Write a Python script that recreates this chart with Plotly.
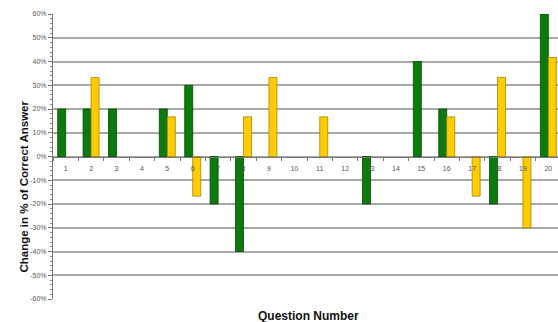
import plotly.graph_objects as go

# Per-question change in percentage of correct answers
questions = list(range(1, 21))
tick_labels = [str(q) for q in questions]
series_a = [20, 20, 20, 0, 20, 30, -20, -40, 0, 0, 0, 0, -20, 0, 40, 20, 0, -20, 0, 60]
series_b = [0, 33.3, 0, 0, 16.7, -16.7, 0, 16.7, 33.3, 0, 16.7, 0, 0, 0, 0, 16.7, -16.7, 33.3, -30, 41.7]
y_ticks = list(range(-60, 61, 10))
y_tick_labels = [f"{v}%" for v in y_ticks]


def no_zero(values):
    # zero-change questions get no bar at all (avoids a hairline outline)
    return [v if v != 0 else None for v in values]


fig = go.Figure()
fig.add_trace(go.Bar(
    x=questions, y=no_zero(series_a), name="A",
    marker=dict(color="#0c7a0c", line=dict(color="#034a03", width=0.8)),
))
fig.add_trace(go.Bar(
    x=questions, y=no_zero(series_b), name="B",
    marker=dict(color="#ffcc00", line=dict(color="#a88400", width=0.8)),
))

tick_font = dict(family="Arial, Liberation Sans, sans-serif", size=7, color="#555555")
title_font = dict(family="Arial, Liberation Sans, sans-serif", size=12, color="#111111")

fig.update_layout(
    width=558, height=322,
    margin=dict(l=53, r=0, t=14, b=23),
    paper_bgcolor="white", plot_bgcolor="white",
    barmode="group", bargap=0.37, bargroupgap=0,
    showlegend=False,
    xaxis=dict(
        range=[0.5, 20.38],
        tickvals=questions, ticktext=tick_labels,
        ticks="", tickfont=tick_font, ticklabelstandoff=5,
        anchor="free", position=0.5,
        showline=True, linecolor="#777777", linewidth=1,
        showgrid=False, zeroline=False,
        minor=dict(tick0=0.5, dtick=1, ticks="outside", ticklen=3,
                   tickcolor="#777777", showgrid=False),
    ),
    yaxis=dict(
        range=[-60, 60],
        tickvals=y_ticks, ticktext=y_tick_labels,
        tickfont=tick_font, ticks="outside", ticklen=4, tickcolor="#777777",
        showline=True, linecolor="#777777", linewidth=1,
        showgrid=True, gridcolor="#a8a8a8", gridwidth=1.5,
        zeroline=False,
        minor=dict(dtick=2, ticks="outside", ticklen=2, tickcolor="#888888",
                   showgrid=False),
    ),
    annotations=[
        dict(text="<b>Question Number</b>", xref="paper", yref="paper",
             x=0.5, xshift=3, y=0, yshift=-26, showarrow=False, font=title_font),
        dict(text="<b>Change in % of Correct Answer</b>", xref="paper", yref="paper",
             x=0, xshift=-38, y=0.5, yshift=-30, textangle=-90, showarrow=False,
             font=dict(title_font, size=11.5)),
    ],
)

fig.write_html("out.html")
